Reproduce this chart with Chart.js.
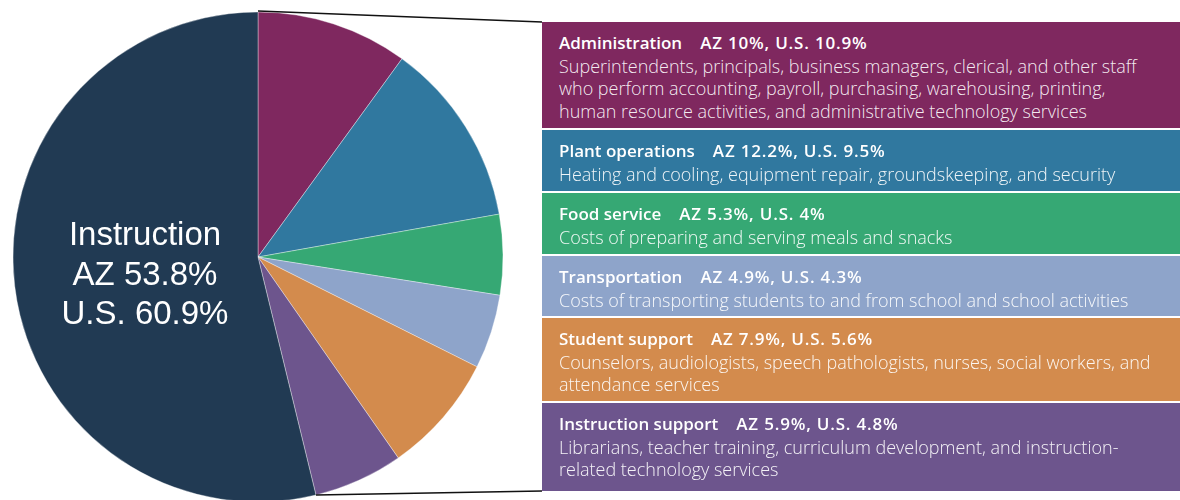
<!DOCTYPE html>
<html>
<head>
<meta charset="utf-8">
<script src="https://cdn.jsdelivr.net/npm/chart.js@4/dist/chart.umd.min.js"></script>
<style>
  html, body { margin: 0; padding: 0; background: #fff; }
  #wrap { position: relative; width: 1180px; height: 500px; overflow: hidden; }
  #c { position: absolute; left: 0; top: 0; }
  .panel { position: absolute; box-sizing: border-box; color: #fff; font-family: "Open Sans", "Liberation Sans", Arial, sans-serif; padding: 10px 0 0 17px; white-space: nowrap; }
  .panel .t { font-size: 17px; font-weight: 600; line-height: 22.5px; }
  .panel .t span { margin-left: 18px; letter-spacing: 0.8px; }
  .panel .d { font-size: 18px; font-weight: 300; line-height: 22.5px; color: rgba(255,255,255,0.92); }
</style>
</head>
<body>
<div id="wrap">
  <canvas id="c" width="1180" height="500"></canvas>
</div>
<script>
// ---- data ----
const categories = ['Administration', 'Plant operations', 'Food service', 'Transportation', 'Student support', 'Instruction support', 'Instruction'];
const azShare = [10, 12.2, 5.3, 4.9, 7.9, 5.9, 53.8];
const usShare = [10.9, 9.5, 4, 4.3, 5.6, 4.8, 60.9];
const descriptions = [
  ['Superintendents, principals, business managers, clerical, and other staff', 'who perform accounting, payroll, purchasing, warehousing, printing,', 'human resource activities, and administrative technology services'],
  ['Heating and cooling, equipment repair, groundskeeping, and security'],
  ['Costs of preparing and serving meals and snacks'],
  ['Costs of transporting students to and from school and school activities'],
  ['Counselors, audiologists, speech pathologists, nurses, social workers, and', 'attendance services'],
  ['Librarians, teacher training, curriculum development, and instruction-', 'related technology services'],
  []
];
const colors = ['#7F285F', '#30789F', '#36A874', '#8EA4CA', '#D38B4D', '#6D558D', '#213A53'];

// ---- layout (styling, not data) ----
const panelLeft = 542, panelRight = 1180;
const panelTops = [22, 130, 193, 256, 318, 403];
const panelBottom = 491;

const wrap = document.getElementById('wrap');
for (let i = 0; i < 6; i++) {
  const top = panelTops[i];
  const bottom = i < 5 ? panelTops[i + 1] - 2 : panelBottom;
  const div = document.createElement('div');
  div.className = 'panel';
  div.style.left = panelLeft + 'px';
  div.style.top = top + 'px';
  div.style.width = (panelRight - panelLeft) + 'px';
  div.style.height = (bottom - top) + 'px';
  div.style.background = colors[i];
  const t = document.createElement('div');
  t.className = 't';
  t.textContent = categories[i];
  const s = document.createElement('span');
  s.textContent = 'AZ ' + azShare[i] + '%, U.S. ' + usShare[i] + '%';
  t.appendChild(s);
  div.appendChild(t);
  descriptions[i].forEach(line => {
    const d = document.createElement('div');
    d.className = 'd';
    d.textContent = line;
    div.appendChild(d);
  });
  wrap.appendChild(div);
}

const overlay = {
  id: 'overlay',
  afterDraw(chart) {
    const ctx = chart.ctx;
    const arcs = chart.getDatasetMeta(0).data;
    const first = arcs[0];
    const lastSmall = arcs[5];
    const cx = first.x, cy = first.y, r = first.outerRadius;
    const p1 = { x: cx + r * Math.cos(first.startAngle), y: cy + r * Math.sin(first.startAngle) };
    const p2 = { x: cx + r * Math.cos(lastSmall.endAngle), y: cy + r * Math.sin(lastSmall.endAngle) };
    ctx.save();
    ctx.strokeStyle = '#111';
    ctx.lineWidth = 1.6;
    ctx.beginPath();
    ctx.moveTo(p1.x, p1.y - 1);
    ctx.lineTo(panelLeft, panelTops[0]);
    ctx.moveTo(p2.x, p2.y);
    ctx.lineTo(panelLeft, panelBottom);
    ctx.stroke();
    // Instruction label
    ctx.fillStyle = '#fff';
    ctx.font = '33px "Liberation Sans", Arial, sans-serif';
    ctx.textAlign = 'center';
    ctx.textBaseline = 'middle';
    const lx = cx - 113, ly = cy - 21;
    const idx = 6;
    ctx.fillText(categories[idx], lx, ly);
    ctx.fillText('AZ ' + azShare[idx] + '%', lx, ly + 39.5);
    ctx.fillText('U.S. ' + usShare[idx] + '%', lx, ly + 79);
    ctx.restore();
  }
};

new Chart(document.getElementById('c'), {
  type: 'pie',
  data: {
    labels: categories,
    datasets: [{
      data: azShare,
      backgroundColor: colors,
      borderColor: 'rgba(255,255,255,0.45)',
      borderWidth: 0.8,
      radius: 245
    }]
  },
  options: {
    responsive: false,
    animation: false,
    layout: { padding: { left: 13, right: 677, top: 14, bottom: 0 } },
    plugins: { legend: { display: false }, tooltip: { enabled: false } }
  },
  plugins: [overlay]
});
</script>
</body>
</html>
